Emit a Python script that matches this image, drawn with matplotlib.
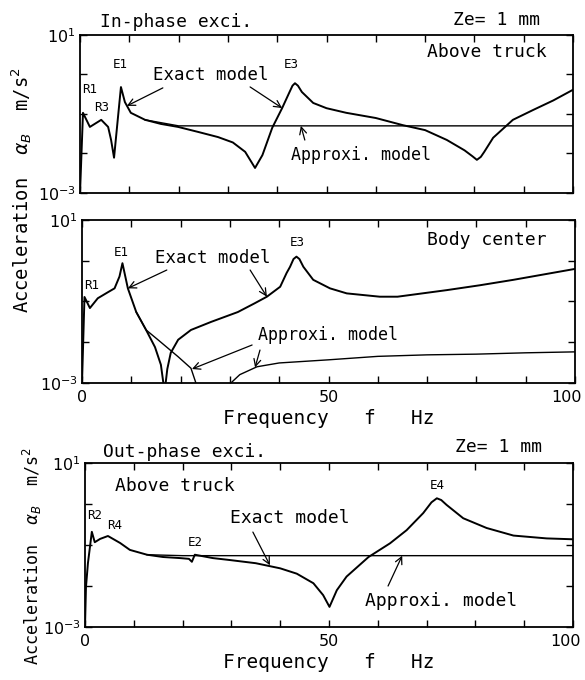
import matplotlib
matplotlib.use("Agg")
import matplotlib.pyplot as plt
from matplotlib.ticker import NullLocator
from matplotlib.transforms import offset_copy

MONO = "DejaVu Sans Mono"

# --------------------------------------------------------------------------
# Data
# --------------------------------------------------------------------------

# In-phase excitation, above truck
f_in_truck_exact = [0, 0.6, 2.0, 4.3, 5.7, 6.3, 6.9, 7.7, 8.3, 9.1, 10.3, 13.2, 16.4,
                    19.9, 24, 28, 31, 33.5, 35.5, 37, 39, 41, 42.5, 43.1, 43.6, 44.2,
                    45, 47.3, 50, 54, 60, 65.5, 70, 74.4, 78, 79.6, 80.5, 81.3, 82,
                    83.8, 87.8, 91.9, 96, 100]
a_in_truck_exact = [0.001, 0.107, 0.047, 0.071, 0.047, 0.022, 0.0078, 0.083, 0.48, 0.20,
                    0.107, 0.071, 0.056, 0.047, 0.035, 0.026, 0.019, 0.011, 0.0043,
                    0.0091, 0.045, 0.141, 0.36, 0.52, 0.60, 0.52, 0.36, 0.19, 0.14,
                    0.107, 0.079, 0.052, 0.039, 0.022, 0.012, 0.0085, 0.0069, 0.0082,
                    0.011, 0.025, 0.071, 0.126, 0.22, 0.41]
f_in_truck_approx = [13.2, 20, 100]
a_in_truck_approx = [0.071, 0.05, 0.05]

# In-phase excitation, body center
f_in_center_exact = [0, 0.5, 1.6, 3.2, 5.3, 6.6, 7.6, 8.2, 9.3, 11.0, 13.0, 14.8, 16.0,
                     16.75, 17.3, 18.0, 19.5, 22.1, 26.2, 31.6, 35.0, 37.5, 40.2, 41.5,
                     42.2, 42.9, 43.5, 44.1, 44.9, 46.9, 50.3, 53.7, 60.4, 64.0, 74.0,
                     80.7, 87.5, 100]
a_in_center_exact = [0.001, 0.129, 0.069, 0.12, 0.17, 0.21, 0.41, 0.87, 0.21, 0.055,
                     0.020, 0.0076, 0.0028, 0.0006, 0.0022, 0.0055, 0.0115, 0.020,
                     0.0316, 0.055, 0.09, 0.131, 0.23, 0.50, 0.71, 1.1, 1.26, 1.1, 0.71,
                     0.34, 0.21, 0.158, 0.131, 0.131, 0.19, 0.25, 0.34, 0.63]
f_in_center_approx = [11.0, 13.0, 15.4, 19.5, 22.1, 23.1, 23.6, 29.6, 30.2, 32.0, 35.5,
                      40.0, 50.0, 60.0, 70.0, 80.0, 90.0, 100.0]
a_in_center_approx = [0.055, 0.020, 0.0115, 0.0044, 0.0023, 0.001, 0.0004, 0.0004,
                      0.001, 0.0016, 0.0025, 0.0031, 0.0037, 0.0045, 0.0049, 0.0051,
                      0.0055, 0.0058]

# Out-phase excitation, above truck
f_out_truck_exact = [0, 0.2, 0.6, 1.4, 2.0, 3.1, 4.7, 7.2, 9.2, 12.7, 16.0, 19.5, 21.3,
                     21.9, 22.5, 26.2, 29.7, 35.0, 40.0, 43.4, 46.8, 48.8, 50.1, 51.6,
                     53.6, 58.1, 62.5, 65.9, 69.3, 71.0, 72.1, 73.0, 74.1, 77.5, 82.3,
                     87.8, 94.6, 100]
a_out_truck_exact = [0.001, 0.0095, 0.036, 0.21, 0.117, 0.141, 0.166, 0.112, 0.076,
                     0.058, 0.051, 0.048, 0.046, 0.039, 0.058, 0.048, 0.043, 0.036,
                     0.027, 0.020, 0.0117, 0.0060, 0.0031, 0.0079, 0.017, 0.051, 0.11,
                     0.23, 0.60, 1.1, 1.38, 1.25, 0.95, 0.45, 0.26, 0.17, 0.145, 0.138]
f_out_truck_approx = [12.7, 20, 100]
a_out_truck_approx = [0.058, 0.055, 0.055]

x_ticks = list(range(0, 101, 10))
x_ticklabels = ["0" if v == 0 else "50" if v == 50 else "100" if v == 100 else ""
                for v in x_ticks]
y_ticks = [1e-3, 1e-2, 1e-1, 1, 10]
y_ticklabels = ["$10^{-3}$", "", "", "", "$10^{1}$"]

XLABEL = "Frequency   f   Hz"
YLABEL = r"Acceleration  $\alpha_B$  m/s$^2$"

# --------------------------------------------------------------------------
# Figure
# --------------------------------------------------------------------------

fig = plt.figure(figsize=(5.85, 6.8), dpi=100)
ax_top = fig.add_axes([0.1368, 0.7162, 0.8427, 0.2324])
ax_mid = fig.add_axes([0.1402, 0.4368, 0.8427, 0.2397])
ax_bot = fig.add_axes([0.1453, 0.0779, 0.8342, 0.2412])


def style(ax, show_x=True):
    ax.set_yscale("log")
    ax.set_xlim(0, 100)
    ax.set_ylim(1e-3, 1e1)
    ax.set_xticks(x_ticks)
    ax.set_xticklabels(x_ticklabels)
    ax.set_yticks(y_ticks)
    ax.set_yticklabels(y_ticklabels)
    ax.yaxis.set_minor_locator(NullLocator())
    ax.tick_params(direction="in", top=True, right=True, length=5, width=1.0,
                   labelsize=11.5, pad=5)
    ax.tick_params(axis="y", pad=3)
    if not show_x:
        ax.tick_params(labelbottom=False)
    else:
        # keep "100" inside the figure, as in the scan
        last = ax.get_xticklabels()[-1]
        last.set_transform(offset_copy(last.get_transform(), fig=fig, x=-8,
                                       y=0, units="dots"))
    for s in ax.spines.values():
        s.set_linewidth(1.3)


def label(ax, x, y, s, size=13, ha="left", va="center"):
    ax.text(x, y, s, transform=ax.transAxes, fontsize=size, family=MONO,
            ha=ha, va=va, clip_on=False)


def arrow(ax, xy, xytext):
    ax.annotate("", xy=xy, xytext=xytext, textcoords="axes fraction",
                arrowprops=dict(arrowstyle="->,head_length=0.5,head_width=0.25",
                                lw=0.9, color="black", shrinkA=0, shrinkB=0))


# ---- top: in-phase, above truck
ax = ax_top
ax.plot(f_in_truck_exact, a_in_truck_exact, color="black", lw=1.4)
ax.plot(f_in_truck_approx, a_in_truck_approx, color="black", lw=1.0)
style(ax, show_x=False)
label(ax, 0.041, 1.085, "In-phase exci.")
label(ax, 0.757, 1.095, "Ze= 1 mm")
label(ax, 0.704, 0.892, "Above truck")
label(ax, 0.02, 0.652, "R1", size=9, ha="center")
label(ax, 0.043, 0.544, "R3", size=9, ha="center")
label(ax, 0.081, 0.81, "E1", size=9, ha="center")
label(ax, 0.148, 0.747, "Exact model", size=12.5)
label(ax, 0.428, 0.81, "E3", size=9, ha="center")
label(ax, 0.428, 0.24, "Approxi. model", size=12)
arrow(ax, (9.5, 0.16), (0.168, 0.665))
arrow(ax, (41, 0.141), (0.345, 0.671))
arrow(ax, (44.8, 0.05), (0.456, 0.335))

# ---- middle: in-phase, body center
ax = ax_mid
ax.plot(f_in_center_exact, a_in_center_exact, color="black", lw=1.4)
ax.plot(f_in_center_approx, a_in_center_approx, color="black", lw=1.0)
style(ax)
ax.set_xlabel(XLABEL, family=MONO, fontsize=14, labelpad=3)
label(ax, 0.70, 0.877, "Body center")
label(ax, 0.02, 0.60, "R1", size=9, ha="center")
label(ax, 0.079, 0.80, "E1", size=9, ha="center")
label(ax, 0.148, 0.767, "Exact model", size=12.5)
label(ax, 0.436, 0.86, "E3", size=9, ha="center")
label(ax, 0.357, 0.294, "Approxi. model", size=12)
arrow(ax, (9.3, 0.21), (0.172, 0.693))
arrow(ax, (37.5, 0.131), (0.341, 0.693))
arrow(ax, (22.3, 0.0022), (0.345, 0.233))
arrow(ax, (35.1, 0.0024), (0.361, 0.202))

# ---- bottom: out-phase, above truck
ax = ax_bot
ax.plot(f_out_truck_exact, a_out_truck_exact, color="black", lw=1.4)
ax.plot(f_out_truck_approx, a_out_truck_approx, color="black", lw=1.0)
style(ax)
ax.set_xlabel(XLABEL, family=MONO, fontsize=14, labelpad=3)
label(ax, 0.037, 1.067, "Out-phase exci.")
label(ax, 0.758, 1.098, "Ze= 1 mm")
label(ax, 0.061, 0.86, "Above truck")
label(ax, 0.02, 0.683, "R2", size=9, ha="center")
label(ax, 0.061, 0.622, "R4", size=9, ha="center")
label(ax, 0.225, 0.518, "E2", size=9, ha="center")
label(ax, 0.297, 0.665, "Exact model", size=13)
label(ax, 0.721, 0.86, "E4", size=9, ha="center")
label(ax, 0.574, 0.159, "Approxi. model", size=13)
arrow(ax, (37.9, 0.032), (0.344, 0.579))
arrow(ax, (65, 0.055), (0.621, 0.25))

# shared y labels
fig.text(22 / 585, 1 - 190 / 680, YLABEL, rotation=90, family=MONO, fontsize=13.5,
         ha="center", va="center")
fig.text(32 / 585, 1 - 556 / 680, YLABEL, rotation=90, family=MONO, fontsize=12,
         ha="center", va="center")

fig.savefig("out.png", dpi=100)
